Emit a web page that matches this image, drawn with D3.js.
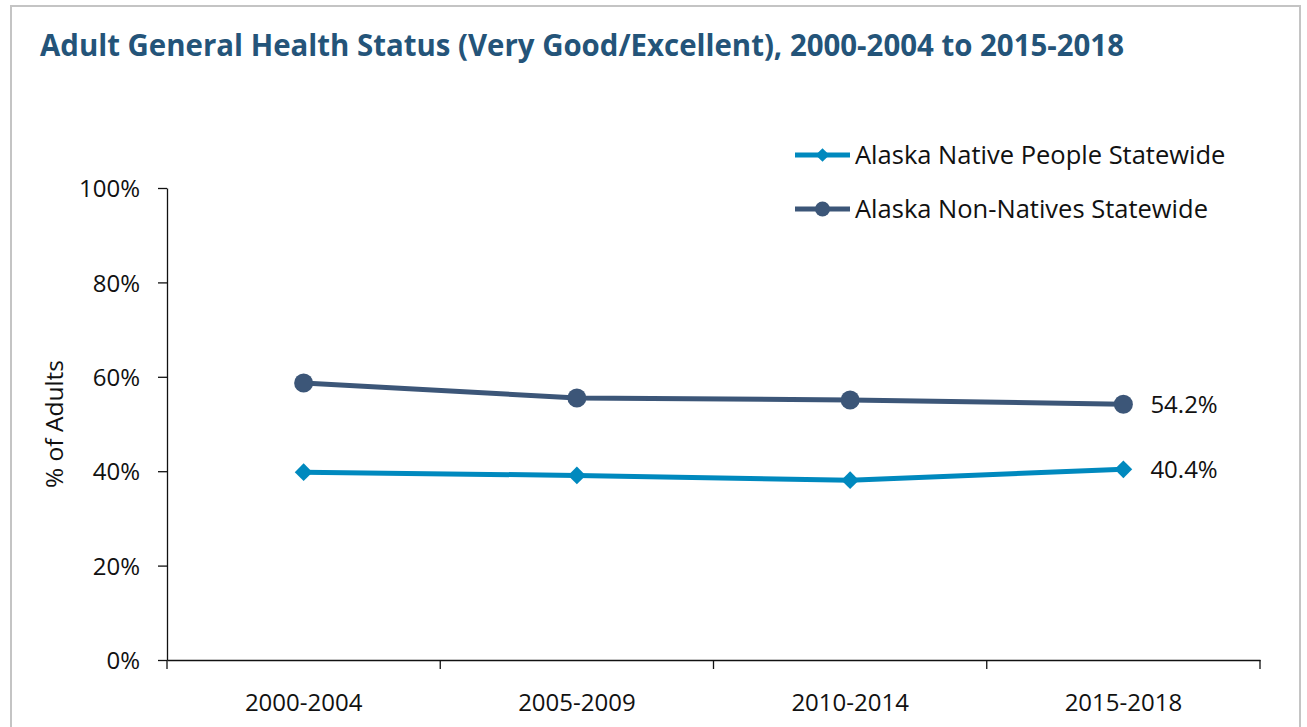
<!DOCTYPE html>
<html lang="en">
<head>
  <meta charset="UTF-8" />
  <title>Adult General Health Status</title>
  <style>
    body {
      margin: 0;
      background-color: white;
      font-family: 'Open Sans', sans-serif;
    }
    svg {
      display: block;
    }
    .axis-text {
      font-family: 'Open Sans', sans-serif;
      font-size: 24px;
      fill: #111;
    }
  </style>
  <script src="https://d3js.org/d3.v7.min.js"></script>
</head>
<body>
  <div id="chart"></div>

  <script>
    const periods = ["2000-2004", "2005-2009", "2010-2014", "2015-2018"];
    const nativeValues = [0.398, 0.391, 0.381, 0.404];
    const nonNativeValues = [0.587, 0.555, 0.551, 0.542];
    const yTicks = [0, 0.2, 0.4, 0.6, 0.8, 1.0];
    const seriesNames = ["Alaska Native People Statewide", "Alaska Non-Natives Statewide"];

    const nativeColor = "#0089BE";
    const nonNativeColor = "#3C5678";

    const width = 1307;
    const height = 727;

    const svg = d3.select("#chart")
      .append("svg")
      .attr("width", width)
      .attr("height", height);

    // outer frame
    svg.append("rect")
      .attr("x", 11)
      .attr("y", 6)
      .attr("width", 1289)
      .attr("height", 740)
      .attr("fill", "white")
      .attr("stroke", "#c4c4c4")
      .attr("stroke-width", 2);

    svg.append("text")
      .attr("x", 40)
      .attr("y", 56)
      .attr("fill", "#245479")
      .attr("font-family", "'Open Sans', sans-serif")
      .attr("font-weight", 700)
      .attr("font-size", 30.5)
      .attr("textLength", 1084)
      .attr("lengthAdjust", "spacingAndGlyphs")
      .text("Adult General Health Status (Very Good/Excellent), 2000-2004 to 2015-2018");

    const plotLeft = 167, plotRight = 1260, plotTop = 188, plotBottom = 660;

    const x = d3.scaleBand()
      .domain(periods)
      .range([plotLeft, plotRight])
      .padding(0);

    const y = d3.scaleLinear()
      .domain([0, 1])
      .range([plotBottom, plotTop]);

    // y axis
    const yAxis = svg.append("g")
      .attr("transform", `translate(${plotLeft},0)`)
      .call(d3.axisLeft(y).tickValues(yTicks).tickFormat(d3.format(".0%")).tickSizeInner(9).tickSizeOuter(0).tickPadding(18));
    yAxis.select(".domain").attr("stroke", "#111").attr("stroke-width", 1.3);
    yAxis.selectAll(".tick line").attr("stroke", "#111").attr("stroke-width", 1.3);
    yAxis.selectAll(".tick text").attr("class", "axis-text").attr("font-family", null).attr("font-size", null).attr("dy", "0.36em");

    // x axis with ticks at category boundaries
    const xAxis = svg.append("g")
      .attr("transform", `translate(0,${plotBottom})`)
      .call(d3.axisBottom(x).tickSize(0).tickPadding(34));
    xAxis.select(".domain").attr("stroke", "#111").attr("stroke-width", 1.3);
    xAxis.selectAll(".tick text").attr("class", "axis-text").attr("font-family", null).attr("font-size", null);

    const boundaries = periods.map(p => x(p)).concat([x(periods[periods.length - 1]) + x.bandwidth()]);
    xAxis.selectAll(".boundary")
      .data(boundaries)
      .enter().append("line")
      .attr("class", "boundary")
      .attr("x1", d => d).attr("x2", d => d)
      .attr("y1", 0).attr("y2", 9)
      .attr("stroke", "#111")
      .attr("stroke-width", 1.3);

    svg.append("text")
      .attr("class", "axis-text")
      .attr("transform", `translate(63,${(plotTop + plotBottom) / 2}) rotate(-90)`)
      .attr("text-anchor", "middle")
      .style("font-size", "24.5px")
      .text("% of Adults");

    const cx = d => x(d) + x.bandwidth() / 2;

    const line = d3.line()
      .x((d, i) => cx(periods[i]))
      .y(d => y(d));

    const diamond = d3.symbol().type(d3.symbolDiamond2).size(200);

    // non-native series
    svg.append("path")
      .datum(nonNativeValues)
      .attr("d", line)
      .attr("fill", "none")
      .attr("stroke", nonNativeColor)
      .attr("stroke-width", 5);

    svg.append("g")
      .selectAll("circle")
      .data(nonNativeValues)
      .enter().append("circle")
      .attr("cx", (d, i) => cx(periods[i]))
      .attr("cy", d => y(d))
      .attr("r", 9.5)
      .attr("fill", nonNativeColor);

    // native series
    svg.append("path")
      .datum(nativeValues)
      .attr("d", line)
      .attr("fill", "none")
      .attr("stroke", nativeColor)
      .attr("stroke-width", 5);

    svg.append("g")
      .selectAll("path")
      .data(nativeValues)
      .enter().append("path")
      .attr("d", diamond)
      .attr("transform", (d, i) => `translate(${cx(periods[i])},${y(d)})`)
      .attr("fill", nativeColor);

    // end labels
    const last = periods.length - 1;
    [nonNativeValues, nativeValues].forEach(vals => {
      svg.append("text")
        .attr("class", "axis-text")
        .attr("x", cx(periods[last]) + 27)
        .attr("y", y(vals[last]))
        .attr("dy", "0.36em")
        .text(d3.format(".1%")(vals[last]));
    });

    // legend
    const legend = svg.append("g").attr("transform", "translate(795,155)");
    const legendItems = [
      { name: seriesNames[0], color: nativeColor, marker: "diamond" },
      { name: seriesNames[1], color: nonNativeColor, marker: "circle" }
    ];

    legendItems.forEach((item, i) => {
      const g = legend.append("g").attr("transform", `translate(0,${i * 54})`);
      g.append("line")
        .attr("x1", 0).attr("x2", 55)
        .attr("y1", 0).attr("y2", 0)
        .attr("stroke", item.color)
        .attr("stroke-width", 5);
      if (item.marker === "circle") {
        g.append("circle").attr("cx", 27.5).attr("cy", 0).attr("r", 7.5).attr("fill", item.color);
      } else {
        g.append("path")
          .attr("d", d3.symbol().type(d3.symbolDiamond2).size(120))
          .attr("transform", "translate(27.5,0)")
          .attr("fill", item.color);
      }
      g.append("text")
        .attr("x", 60)
        .attr("y", 0)
        .attr("dy", "0.36em")
        .attr("font-family", "'Open Sans', sans-serif")
        .attr("font-size", 25.5)
        .attr("fill", "#111")
        .text(item.name);
    });
  </script>
</body>
</html>
